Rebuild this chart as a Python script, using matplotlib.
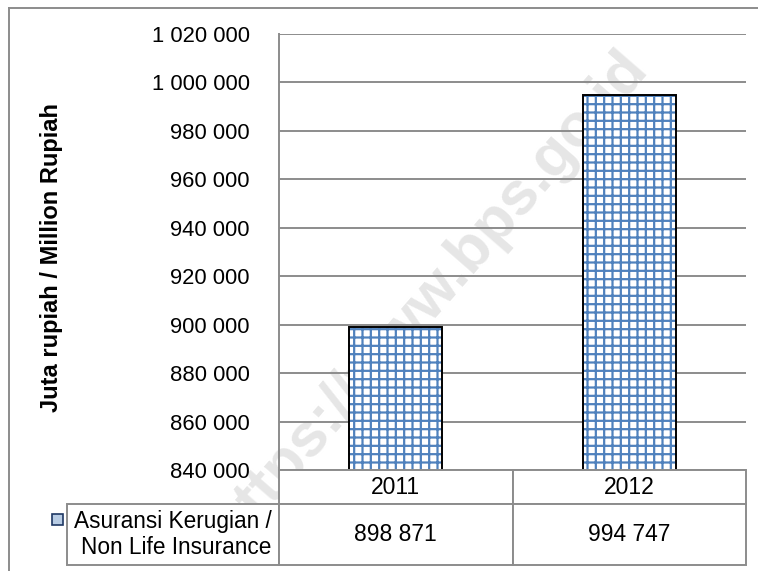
import matplotlib
matplotlib.use("Agg")
import matplotlib.pyplot as plt
from matplotlib.lines import Line2D
from matplotlib.patches import Rectangle
from matplotlib.ticker import FuncFormatter

plt.rcParams['font.family'] = ['Liberation Sans', 'DejaVu Sans']
plt.rcParams['hatch.linewidth'] = 1.6

# data
years = ['2011', '2012']
values = [898871, 994747]
series_label = 'Asuransi Kerugian /\nNon Life Insurance'
y_label = 'Juta rupiah / Million Rupiah'
y_ticks = list(range(840000, 1020001, 20000))

W, H = 758, 571
grid_col = '#8c8c8c'
hatch_col = '#4f81bd'


def space_thousands(v, pos=None):
    return '{:,.0f}'.format(v).replace(',', ' ')


fig = plt.figure(figsize=(W / 100, H / 100), dpi=100)
fig.patch.set_facecolor('white')

# plot area in pixels: left 279, right 746, top 34, bottom 470
ax_w, ax_h = 746 - 279, 470 - 34
ax = fig.add_axes([279 / W, 1 - 470 / H, ax_w / W, ax_h / H])
ax.patch.set_facecolor('none')

x = list(range(len(years)))
# hatched fill, then black outline on top
ax.bar(x, values, width=0.4, color='white', edgecolor=hatch_col, hatch='++', linewidth=0, zorder=2)
ax.bar(x, values, width=0.4, fill=False, edgecolor='black', linewidth=1.4, zorder=3)

ax.set_xlim(-0.5, len(years) - 0.5)
ax.set_ylim(y_ticks[0], y_ticks[-1])
ax.set_yticks(y_ticks)
ax.yaxis.set_major_formatter(FuncFormatter(space_thousands))
ax.set_xticks([])
ax.tick_params(axis='y', length=0, pad=21, labelsize=15.8)
ax.yaxis.grid(True, color=grid_col, linewidth=1.4)
ax.set_axisbelow(True)
for s in ['top', 'right', 'bottom']:
    ax.spines[s].set_visible(False)
ax.spines['left'].set_color(grid_col)
ax.spines['left'].set_linewidth(1.4)

fig.text(52 / W, 1 - 257 / H, y_label, rotation=90, ha='center', va='center',
         fontsize=17, fontweight='bold')

# data table under the plot (bbox covers the year/value grid, labels hang to the left)
hdr_h, row_h = 34 / ax_h, 61 / ax_h
tab = ax.table(cellText=[[space_thousands(v) for v in values]],
               rowLabels=[series_label], colLabels=years,
               cellLoc='center', rowLoc='right',
               bbox=[0, -(hdr_h + row_h), 1, hdr_h + row_h])
tab.set_zorder(5)
tab.auto_set_font_size(False)
for (r, c), cell in tab.get_celld().items():
    cell.set_edgecolor(grid_col)
    cell.set_linewidth(1.4)
    cell.set_facecolor('white')
    cell.set_width(230 / ax_w if c == -1 else 1 / len(years))
    cell.set_height(hdr_h if r == 0 else row_h)
    cell.get_text().set_fontsize(16.5)
    if c == -1:
        cell.PAD = 0.035
        cell.get_text().set_multialignment('right')
        cell.get_text().set_fontsize(16.3)

# legend swatch in the label cell
fig.add_artist(Rectangle((52 / W, 1 - 525 / H), 11 / W, 11 / H, transform=fig.transFigure,
                         facecolor='#b8cce4', edgecolor='#1f3864', linewidth=1.2, zorder=6))

# watermark
ax.text(430 / W, 1 - 297 / H, 'https://www.bps.go.id', transform=fig.transFigure,
        rotation=49, ha='center', va='center', fontsize=44, fontweight='bold',
        color='#e6e6e6', zorder=0.4, clip_on=False)

# outer chart frame (only top and left edges are inside the image)
fig.add_artist(Line2D([9 / W, 1], [1 - 8 / H, 1 - 8 / H], transform=fig.transFigure,
                      color=grid_col, linewidth=1.4))
fig.add_artist(Line2D([9 / W, 9 / W], [0, 1 - 8 / H], transform=fig.transFigure,
                      color=grid_col, linewidth=1.4))

fig.savefig('out.png', dpi=100)
